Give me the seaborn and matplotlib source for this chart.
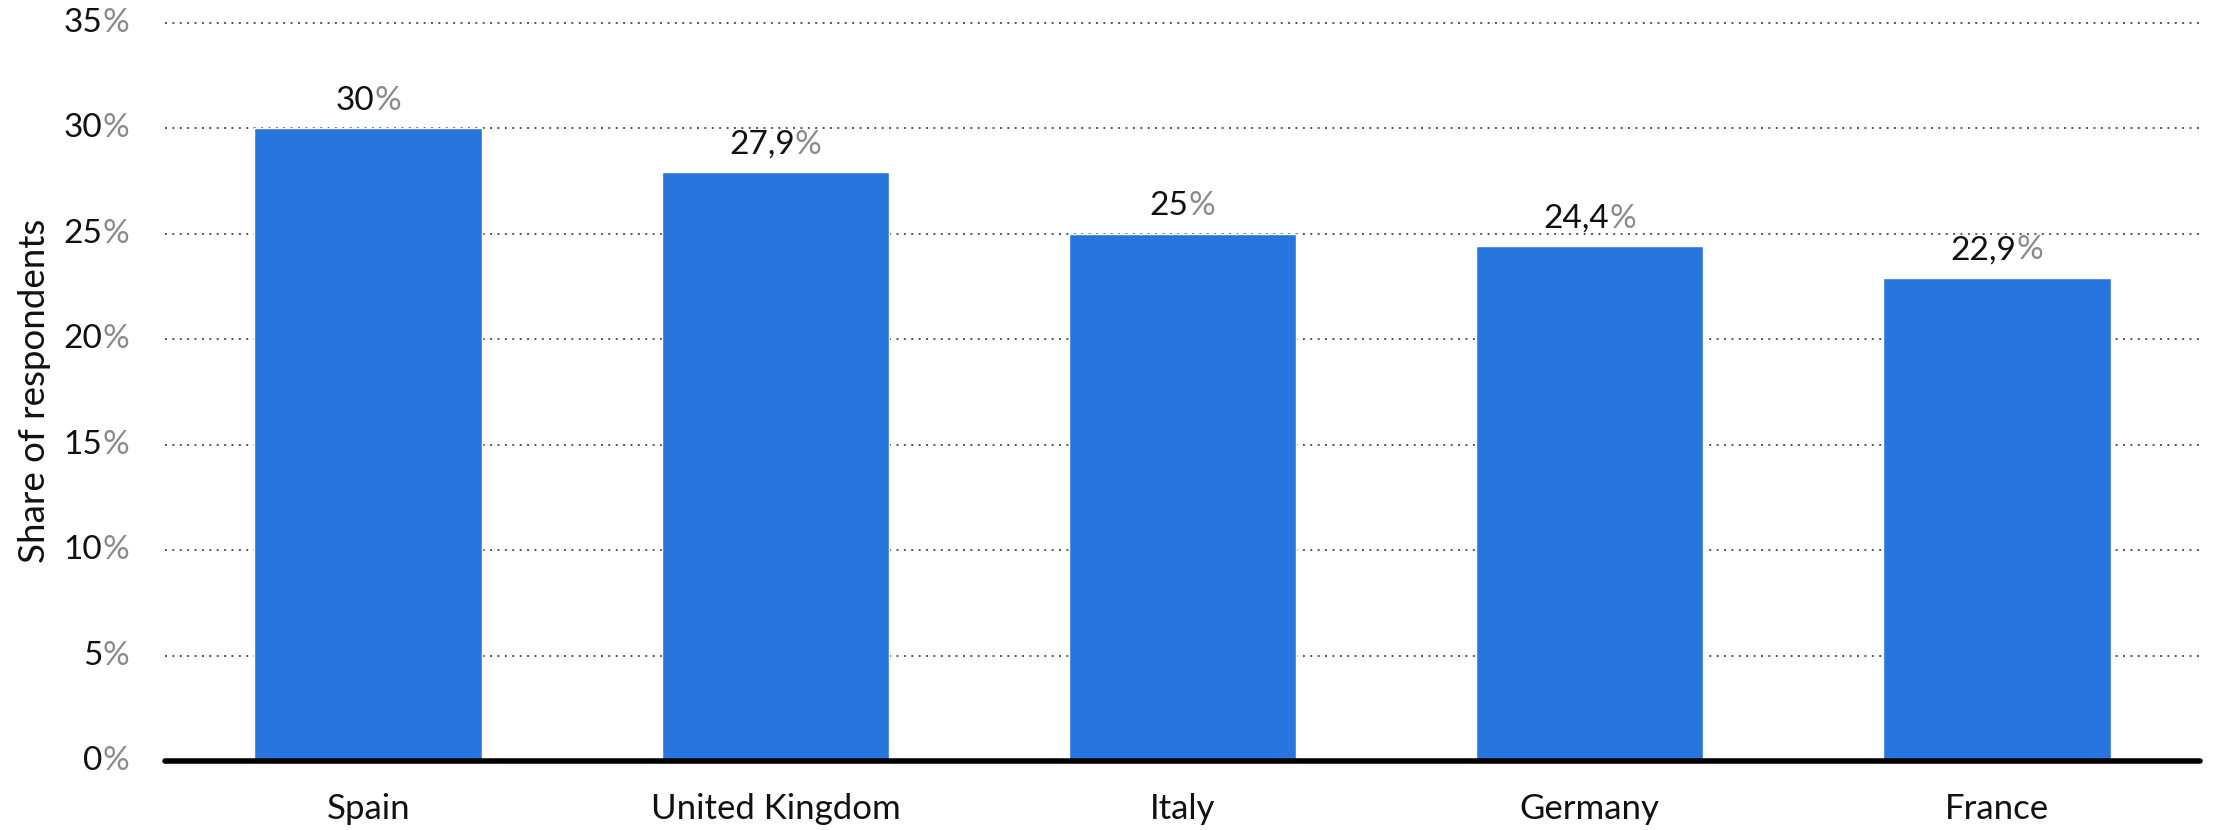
import matplotlib
matplotlib.use("Agg")
import matplotlib.pyplot as plt
import seaborn as sns
import pandas as pd

countries = ["Spain", "United Kingdom", "Italy", "Germany", "France"]
shares = [30.0, 27.9, 25.0, 24.4, 22.9]
y_ticks = [0, 5, 10, 15, 20, 25, 30, 35]
y_label = "Share of respondents"

BAR_COLOR = "#2876DD"
TEXT_COLOR = "#111111"
PCT_COLOR = "#8a8a8a"
FONT = ["Lato", "DejaVu Sans"]
FS = 24

sns.set_theme(style="white")
plt.rcParams["font.family"] = FONT

df = pd.DataFrame({"country": countries, "share": shares})

fig = plt.figure(figsize=(22.14, 8.3), dpi=100)
ax = fig.add_axes([0.0745, 0.0831, 0.9192, 0.8897])

sns.barplot(data=df, x="country", y="share", color=BAR_COLOR, saturation=1,
            width=0.56, ax=ax, zorder=3)

ax.set_xlim(-0.5, len(countries) - 0.5)
ax.set_ylim(0, 35)
ax.set_yticks(y_ticks)
ax.set_yticklabels([])
ax.set_xlabel("")
ax.set_ylabel("")
for s in ax.spines.values():
    s.set_visible(False)

# dotted horizontal grid
ax.yaxis.grid(True, color="#555555", linewidth=1.4, linestyle=(0, (1, 2.8)), zorder=0)
for gl in ax.get_ygridlines():
    gl.set_clip_on(False)
ax.set_axisbelow(True)

# baseline
ax.axhline(0, color="black", linewidth=4, zorder=5, clip_on=False)

ax.tick_params(axis="both", length=0)
ax.tick_params(axis="x", pad=23, labelsize=25, labelcolor=TEXT_COLOR)

# y tick labels: dark number with light percent sign
for v in y_ticks:
    pct = ax.annotate("%", xy=(0, v), xycoords=ax.get_yaxis_transform(),
                      xytext=(-26, 0), textcoords="offset points",
                      ha="right", va="center", fontsize=FS, color=PCT_COLOR,
                      annotation_clip=False)
    ax.annotate(f"{v}", xy=(0, 0.5), xycoords=pct, ha="right", va="center",
                fontsize=FS, color=TEXT_COLOR, annotation_clip=False)

# value labels above the bars
fig.canvas.draw()
renderer = fig.canvas.get_renderer()
LABEL_OFFSET = 9
for i, v in enumerate(shares):
    num = f"{v:g}".replace(".", ",")
    t = ax.annotate(num, xy=(i, v), xytext=(0, LABEL_OFFSET), textcoords="offset points",
                    ha="center", va="bottom", fontsize=FS, color=TEXT_COLOR)
    p = ax.annotate("%", xy=(1, 0), xycoords=t, ha="left", va="bottom",
                    fontsize=FS, color=PCT_COLOR)
    w_pct = p.get_window_extent(renderer).width / fig.dpi * 72
    t.set_position((-w_pct / 2, LABEL_OFFSET))

fig.text(35 / 2214, 1 - 391 / 830, y_label, rotation=90, ha="center", va="center",
         fontsize=26.5, color=TEXT_COLOR)

fig.savefig("out.png", dpi=100)
